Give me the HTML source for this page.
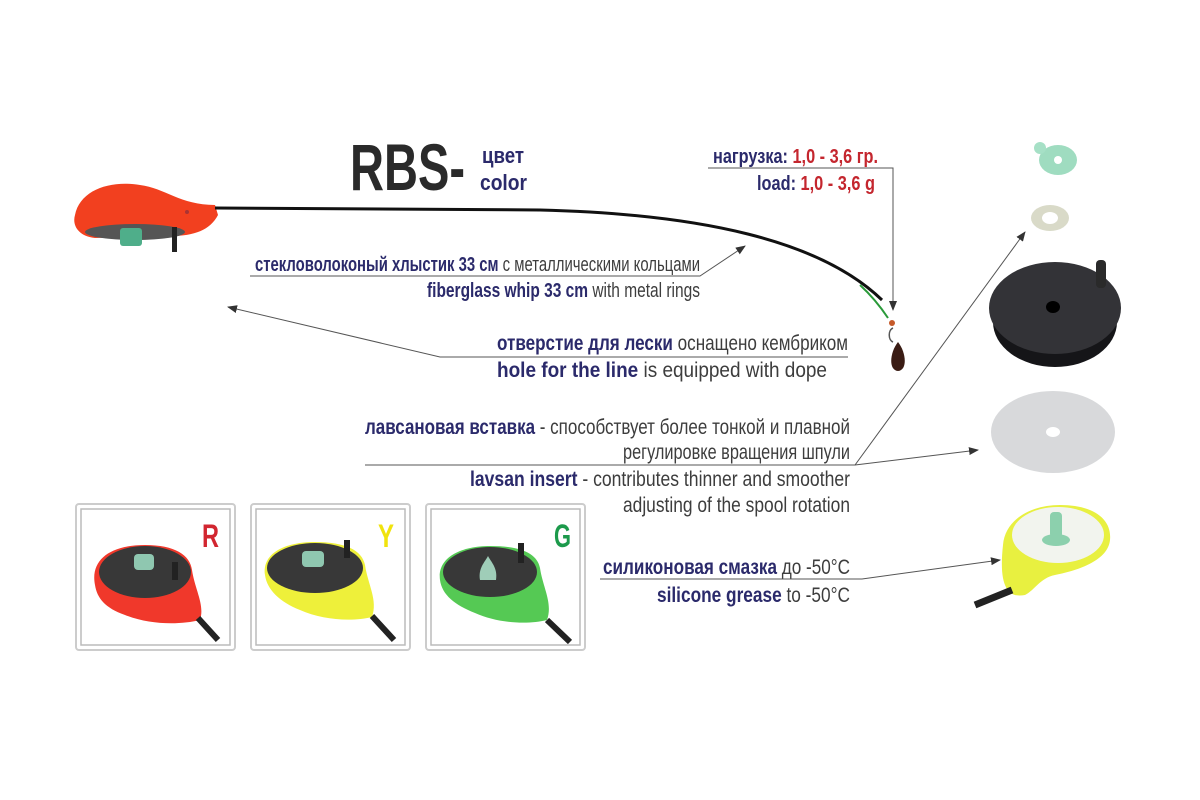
<!DOCTYPE html>
<html><head><meta charset="utf-8"><style>
html,body{margin:0;padding:0;background:#fff}
svg{display:block}
text{font-family:"Liberation Sans","DejaVu Sans",sans-serif}
.b{font-weight:bold;fill:#2b2a6b}
.n{fill:#3d3d3d}
.r{font-weight:bold;fill:#c4262e}
</style></head><body>
<svg width="1200" height="800" viewBox="0 0 1200 800" xmlns="http://www.w3.org/2000/svg">
<defs>
<marker id="a" markerWidth="10" markerHeight="8" refX="9" refY="4" orient="auto" markerUnits="userSpaceOnUse">
<path d="M0,0 L10,4 L0,8 Z" fill="#333"/></marker>
</defs>
<rect width="1200" height="800" fill="#fff"/>

<text x="350" y="190" font-size="66" font-weight="bold" fill="#2a2a2a" textLength="115" lengthAdjust="spacingAndGlyphs">RBS-</text>
<text x="482" y="163" font-size="22" class="b" textLength="42" lengthAdjust="spacingAndGlyphs">цвет</text>
<text x="480" y="190" font-size="22" class="b" textLength="47" lengthAdjust="spacingAndGlyphs">color</text>

<path d="M75,215 C80,190 110,180 140,185 C165,188 180,205 215,205 L218,215 C210,230 195,236 170,236 L95,238 C78,236 72,225 75,215Z" fill="#f2401f"/>
<ellipse cx="135" cy="232" rx="50" ry="8" fill="#555"/>
<rect x="120" y="228" width="22" height="18" rx="3" fill="#4fae8a"/>
<rect x="172" y="227" width="5" height="25" fill="#222"/>
<circle cx="187" cy="212" r="2" fill="#a33"/>
<path d="M215,208 L540,210 C700,214 820,240 882,300" stroke="#111" stroke-width="3" fill="none"/>
<path d="M860,285 C872,296 880,306 888,318" stroke="#2a9a3a" stroke-width="2" fill="none"/>
<circle cx="892" cy="323" r="3" fill="#c55a2a"/>
<path d="M893,328 C888,330 888,340 893,342" stroke="#555" stroke-width="1.5" fill="none"/>
<path d="M898,342 C906,352 908,370 898,371 C888,370 890,352 898,342Z" fill="#3a1c14"/>

<text x="713" y="163" font-size="20" textLength="165" lengthAdjust="spacingAndGlyphs"><tspan class="b">нагрузка: </tspan><tspan class="r">1,0 - 3,6 гр.</tspan></text>
<text x="757" y="190" font-size="20" textLength="118" lengthAdjust="spacingAndGlyphs"><tspan class="b">load: </tspan><tspan class="r">1,0 - 3,6 g</tspan></text>
<polyline points="708,168 893,168 893,310" fill="none" stroke="#555" stroke-width="1" marker-end="url(#a)"/>

<text x="255" y="271" font-size="20" textLength="445" lengthAdjust="spacingAndGlyphs"><tspan class="b">стекловолоконый хлыстик 33 см</tspan><tspan class="n"> с металлическими кольцами</tspan></text>
<text x="427" y="297" font-size="20" textLength="273" lengthAdjust="spacingAndGlyphs"><tspan class="b">fiberglass whip 33 cm</tspan><tspan class="n"> with metal rings</tspan></text>
<polyline points="250,276 700,276 745,246" fill="none" stroke="#555" stroke-width="1" marker-end="url(#a)"/>

<text x="497" y="350" font-size="21" textLength="351" lengthAdjust="spacingAndGlyphs"><tspan class="b">отверстие для лески</tspan><tspan class="n"> оснащено кембриком</tspan></text>
<text x="497" y="377" font-size="21" textLength="330" lengthAdjust="spacingAndGlyphs"><tspan class="b">hole for the line</tspan><tspan class="n"> is equipped with dope</tspan></text>
<polyline points="848,357 440,357 228,307" fill="none" stroke="#555" stroke-width="1" marker-end="url(#a)"/>

<text x="365" y="434" font-size="21" textLength="485" lengthAdjust="spacingAndGlyphs"><tspan class="b">лавсановая вставка</tspan><tspan class="n"> - способствует более тонкой и плавной</tspan></text>
<text x="623" y="459" font-size="21" class="n" textLength="227" lengthAdjust="spacingAndGlyphs">регулировке вращения шпули</text>
<text x="470" y="486" font-size="21" textLength="380" lengthAdjust="spacingAndGlyphs"><tspan class="b">lavsan insert</tspan><tspan class="n"> - contributes thinner and smoother</tspan></text>
<text x="623" y="512" font-size="21" class="n" textLength="227" lengthAdjust="spacingAndGlyphs">adjusting of the spool rotation</text>
<polyline points="365,465 855,465 1025,232" fill="none" stroke="#555" stroke-width="1" marker-end="url(#a)"/>
<line x1="855" y1="465" x2="978" y2="450" stroke="#555" stroke-width="1" marker-end="url(#a)"/>

<text x="603" y="574" font-size="21" textLength="247" lengthAdjust="spacingAndGlyphs"><tspan class="b">силиконовая смазка</tspan><tspan class="n"> до -50°C</tspan></text>
<text x="657" y="602" font-size="21" textLength="193" lengthAdjust="spacingAndGlyphs"><tspan class="b">silicone grease</tspan><tspan class="n"> to -50°C</tspan></text>
<polyline points="600,579 862,579 1000,560" fill="none" stroke="#555" stroke-width="1" marker-end="url(#a)"/>

<g>
<rect x="76" y="504" width="159" height="146" rx="3" fill="#fff" stroke="#ccc" stroke-width="2"/>
<rect x="81" y="509" width="149" height="136" fill="none" stroke="#bbb" stroke-width="1.5"/>
<text x="202" y="547" font-size="32" font-weight="bold" fill="#d22630" textLength="17" lengthAdjust="spacingAndGlyphs">R</text>
<path d="M95,585 C90,560 110,545 145,545 C175,545 190,555 192,570 C195,590 205,605 200,620 C180,625 150,625 125,615 C105,608 97,598 95,585Z" fill="#f0382b"/>
<ellipse cx="145" cy="572" rx="46" ry="26" fill="#383838"/>
<rect x="134" y="554" width="20" height="16" rx="4" fill="#8fc7b0"/>
<rect x="172" y="562" width="6" height="18" fill="#222"/>
<path d="M198,618 L218,640" stroke="#222" stroke-width="6"/>
</g>
<g>
<rect x="251" y="504" width="159" height="146" rx="3" fill="#fff" stroke="#ccc" stroke-width="2"/>
<rect x="256" y="509" width="149" height="136" fill="none" stroke="#bbb" stroke-width="1.5"/>
<text x="378" y="547" font-size="32" font-weight="bold" fill="#f0e30d" textLength="16" lengthAdjust="spacingAndGlyphs">Y</text>
<path d="M265,575 C262,553 285,542 315,542 C345,542 362,550 365,565 C368,585 378,600 372,617 C352,622 322,620 300,610 C280,602 267,590 265,575Z" fill="#eef03a"/>
<ellipse cx="315" cy="568" rx="48" ry="25" fill="#383838"/>
<rect x="302" y="551" width="22" height="16" rx="4" fill="#8fc7b0"/>
<rect x="344" y="540" width="6" height="18" fill="#222"/>
<path d="M372,616 L394,640" stroke="#222" stroke-width="6"/>
</g>
<g>
<rect x="426" y="504" width="159" height="146" rx="3" fill="#fff" stroke="#ccc" stroke-width="2"/>
<rect x="431" y="509" width="149" height="136" fill="none" stroke="#bbb" stroke-width="1.5"/>
<text x="554" y="547" font-size="32" font-weight="bold" fill="#1c9a4b" textLength="17" lengthAdjust="spacingAndGlyphs">G</text>
<path d="M440,580 C437,558 460,546 490,546 C520,546 537,553 540,568 C543,588 553,603 547,620 C527,625 497,623 475,613 C455,605 442,595 440,580Z" fill="#55c954"/>
<ellipse cx="490" cy="572" rx="47" ry="25" fill="#383838"/>
<path d="M480,580 C478,568 485,562 488,556 C491,562 498,568 496,580Z" fill="#9fcdb8"/>
<rect x="518" y="543" width="6" height="20" fill="#222"/>
<path d="M547,620 L570,642" stroke="#222" stroke-width="6"/>
</g>

<ellipse cx="1058" cy="160" rx="19" ry="15" fill="#9fdcc0"/>
<circle cx="1040" cy="148" r="6" fill="#a6e0c6"/>
<circle cx="1058" cy="160" r="4" fill="#fff"/>
<ellipse cx="1050" cy="218" rx="19" ry="13" fill="#d9dac8"/>
<ellipse cx="1050" cy="218" rx="8" ry="6" fill="#fff"/>
<ellipse cx="1055" cy="322" rx="62" ry="45" fill="#151518"/>
<ellipse cx="1055" cy="308" rx="66" ry="46" fill="#333337"/>
<ellipse cx="1053" cy="307" rx="7" ry="6" fill="#000"/>
<rect x="1096" y="260" width="10" height="28" rx="4" fill="#2a2a2a"/>
<ellipse cx="1053" cy="432" rx="62" ry="41" fill="#d8d9db"/>
<ellipse cx="1053" cy="432" rx="7" ry="5" fill="#fff"/>
<path d="M1003,545 C1005,520 1030,505 1060,505 C1095,505 1112,520 1110,540 C1108,560 1080,570 1055,575 C1040,578 1035,590 1025,595 C1010,598 998,590 1003,545Z" fill="#e8f040"/>
<ellipse cx="1058" cy="535" rx="46" ry="28" fill="#f2f4ee"/>
<rect x="1050" y="512" width="12" height="26" rx="4" fill="#8cd0ad"/>
<ellipse cx="1056" cy="540" rx="14" ry="6" fill="#8cd0ad"/>
<path d="M1012,590 L975,605" stroke="#222" stroke-width="7"/>
</svg>
</body></html>
